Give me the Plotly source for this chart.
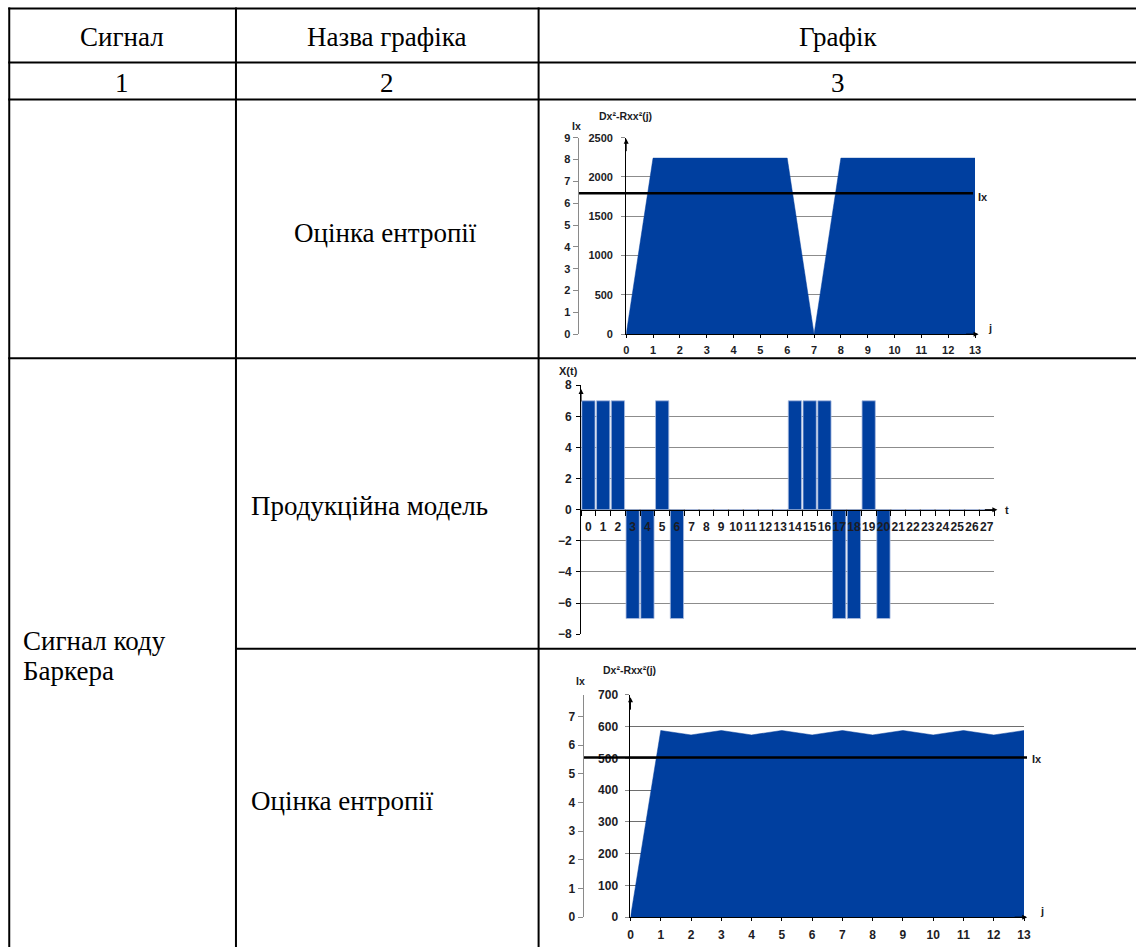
import plotly.graph_objects as go

W, H = 1136, 947

# ---------------- data ----------------
header_labels = ["Сигнал", "Назва графіка", "Графік"]
number_labels = ["1", "2", "3"]
signal_name_lines = ["Сигнал коду", "Баркера"]
chart_names = ["Оцінка ентропії", "Продукційна модель", "Оцінка ентропії"]

j_vals = list(range(14))
entropy1_vals = [0, 2240, 2240, 2240, 2240, 2240, 2240, 0, 2240, 2240, 2240, 2240, 2240, 2240]
ix1_value = 6.45

t_vals = list(range(28))
barker_vals = [7, 7, 7, -7, -7, 7, -7, 0, 0, 0, 0, 0, 0, 0,
               7, 7, 7, -7, -7, 7, -7, 0, 0, 0, 0, 0, 0, 0]

entropy2_vals = [0, 588, 574, 588, 574, 588, 574, 588, 574, 588, 574, 588, 574, 588]
ix2_value = 5.57

y1_ticks = [0, 500, 1000, 1500, 2000, 2500]
ix1_ticks = list(range(10))
y2_ticks = [-8, -6, -4, -2, 0, 2, 4, 6, 8]
y3_ticks = [0, 100, 200, 300, 400, 500, 600, 700]
ix2_ticks = list(range(8))

# ---------------- styles ----------------
BLUE = "#003F9F"
GRID = "#8c8c8c"
TXT = "#1c1c24"
SANS = "Liberation Sans, Arial, sans-serif"
SERIF = dict(family="Liberation Serif, Times New Roman, serif", size=27, color="black")

# page-to-figure calibration (target pixel -> figure pixel)
X_OFF, X_SC = 1.75, 0.9924
Y_OFF, Y_SC = 7.6, 0.983


def tfont(size):
    return dict(family=SANS, size=size, color=TXT, weight="bold")


def fx(px):
    return ((px - X_OFF) / X_SC) / W


def fy(py):
    return 1 - ((py - Y_OFF) / Y_SC) / H


fig = go.Figure()

# Chart 1
fig.add_trace(go.Scatter(x=j_vals, y=entropy1_vals, mode="lines", fill="tozeroy",
                         fillcolor=BLUE, line=dict(color=BLUE, width=0.5),
                         xaxis="x", yaxis="y", showlegend=False, hoverinfo="skip"))
fig.add_trace(go.Scatter(x=[0, 1], y=[ix1_value, ix1_value], mode="lines",
                         line=dict(color="black", width=2.5),
                         xaxis="x2", yaxis="y2", showlegend=False, hoverinfo="skip"))
# Chart 2
fig.add_trace(go.Bar(x=t_vals, y=barker_vals, marker=dict(color=BLUE, line=dict(color="#a9bbe0", width=0.8)),
                     xaxis="x3", yaxis="y3", showlegend=False, hoverinfo="skip"))
# Chart 3
fig.add_trace(go.Scatter(x=j_vals, y=entropy2_vals, mode="lines", fill="tozeroy",
                         fillcolor=BLUE, line=dict(color=BLUE, width=0.5),
                         xaxis="x4", yaxis="y4", showlegend=False, hoverinfo="skip"))
fig.add_trace(go.Scatter(x=[0, 1], y=[ix2_value, ix2_value], mode="lines",
                         line=dict(color="black", width=2.5),
                         xaxis="x5", yaxis="y5", showlegend=False, hoverinfo="skip"))

common_x = dict(showgrid=False, zeroline=False, showline=True, linecolor="black", linewidth=1,
                fixedrange=True, tickangle=0)
common_y = dict(zeroline=False, showline=True, linecolor="black", linewidth=1,
                fixedrange=True, ticks="outside", ticklen=4, tickcolor=GRID,
                showgrid=True, gridcolor=GRID, gridwidth=1)
ix_axis = dict(showgrid=False, zeroline=False, showline=True, linecolor="#8a8a8a", linewidth=1,
               ticks="outside", ticklen=5, tickcolor="#8a8a8a", fixedrange=True, side="left")
hidden_x = dict(visible=False, range=[0, 1], fixedrange=True)

c1_dom = [fy(334), fy(138)]
c2_dom = [fy(633.3), fy(385)]
c3_dom = [fy(915.7), fy(694)]

fig.update_layout(
    width=W, height=H, autosize=False,
    margin=dict(l=0, r=0, t=0, b=0),
    paper_bgcolor="white", plot_bgcolor="rgba(0,0,0,0)",
    bargap=0.1,
    xaxis=dict(common_x, domain=[fx(625.7), fx(975)], range=[0, 13], anchor="y",
               tickvals=j_vals, ticks="outside", ticklen=3, tickcolor="black", tickfont=tfont(11),
               ticklabelstandoff=3),
    yaxis=dict(common_y, domain=c1_dom, range=[0, 2500], tickvals=y1_ticks, anchor="x",
               tickfont=tfont(11), ticklabelstandoff=6),
    xaxis2=dict(hidden_x, domain=[fx(578), fx(973)], anchor="y2"),
    yaxis2=dict(ix_axis, domain=c1_dom, range=[0, 9], tickvals=ix1_ticks, anchor="x2",
                tickfont=tfont(11)),
    xaxis3=dict(common_x, domain=[fx(580.5), fx(994)], range=[-0.5, 27.5], anchor="free",
                position=(c2_dom[0] + c2_dom[1]) / 2, tickvals=t_vals, ticks="",
                tickfont=tfont(12), ticklabelstandoff=6,
                minor=dict(ticks="outside", tickmode="linear", tick0=-0.5, dtick=1,
                           ticklen=5, tickcolor="black")),
    yaxis3=dict(common_y, domain=c2_dom, range=[-8, 8], tickvals=y2_ticks, anchor="x3",
                tickcolor="black", tickfont=tfont(12), ticklabelstandoff=2),
    xaxis4=dict(common_x, domain=[fx(630), fx(1024)], range=[0, 13], anchor="y4",
                tickvals=j_vals, ticks="outside", ticklen=3, tickcolor="black", tickfont=tfont(12),
                ticklabelstandoff=3),
    yaxis4=dict(common_y, domain=c3_dom, range=[0, 700], tickvals=y3_ticks, anchor="x4",
                gridcolor="#6e6e6e", tickfont=tfont(12), ticklabelstandoff=5),
    xaxis5=dict(hidden_x, domain=[fx(583), fx(1027)], anchor="y5"),
    yaxis5=dict(ix_axis, domain=c3_dom, range=[0, 7.75], tickvals=ix2_ticks, anchor="x5",
                tickfont=tfont(12)),
)

# ---------------- table lines ----------------
def hline(y, x0, x1):
    fig.add_shape(type="line", xref="paper", yref="paper", x0=fx(x0), x1=fx(x1), y0=fy(y), y1=fy(y),
                  line=dict(color="black", width=2))


def vline(x, y0, y1):
    fig.add_shape(type="line", xref="paper", yref="paper", x0=fx(x), x1=fx(x), y0=fy(y0), y1=fy(y1),
                  line=dict(color="black", width=2))


for yy in [9, 63, 100, 358]:
    hline(yy, 7, 1150)
hline(648, 235, 1150)
for xx in [8, 235, 538]:
    vline(xx, 8, 960)

# ---------------- table text ----------------
def ptext(text, x, y, xanchor="center", font=SERIF, align="center"):
    fig.add_annotation(text=text, xref="paper", yref="paper", x=fx(x), y=fy(y), showarrow=False,
                       xanchor=xanchor, yanchor="middle", font=font, align=align)


col_centers = [121, 386.5, 838]
for lbl, cx in zip(header_labels, col_centers):
    ptext(lbl, cx, 38)
for lbl, cx in zip(number_labels, col_centers):
    ptext(lbl, cx, 83)
ptext(chart_names[0], 385, 233)
ptext(chart_names[1], 248, 505, xanchor="left")
ptext(chart_names[2], 248, 800, xanchor="left")
ptext(signal_name_lines[0], 20, 640, xanchor="left")
ptext(signal_name_lines[1], 20, 670, xanchor="left")

# ---------------- chart labels ----------------
def clabel(text, x, y, size=11):
    fig.add_annotation(text=text, xref="paper", yref="paper", x=fx(x), y=fy(y), showarrow=False,
                       xanchor="center", yanchor="middle", font=tfont(size))


clabel("Dx²-Rxx²(j)", 625, 116, 10.5)
clabel("Ix", 576, 126, 10.5)
clabel("Ix", 983, 197)
clabel("j", 990, 328)
clabel("X(t)", 568, 371)
clabel("t", 1007, 509)
clabel("Dx²-Rxx²(j)", 629, 669, 10.5)
clabel("Ix", 580, 680, 10.5)
clabel("Ix", 1037, 758)
clabel("j", 1042, 910)

# ---------------- axis arrows ----------------
def arrow(xref, x, yref, y, ax, ay):
    fig.add_annotation(xref=xref, x=x, yref=yref, y=y, ax=ax, ay=ay, text="", showarrow=True,
                       arrowhead=2, arrowsize=1, arrowwidth=1, arrowcolor="black")


arrow("x", 0, "y domain", 0.995, 0, 14)
arrow("x domain", 1.01, "y", 0, -14, 0)
arrow("x3", -0.5, "y3 domain", 0.985, 0, 14)
arrow("x3 domain", 1.008, "y3", 0, -14, 0)
arrow("x4", 0, "y4 domain", 0.99, 0, 14)
arrow("x4 domain", 1.008, "y4", 0, -14, 0)

fig.write_html("out.html", config={"displayModeBar": False},
               post_script="document.documentElement.style.margin='0';document.body.style.margin='0';"
                           "document.body.style.padding='0';document.body.style.overflow='hidden';")
